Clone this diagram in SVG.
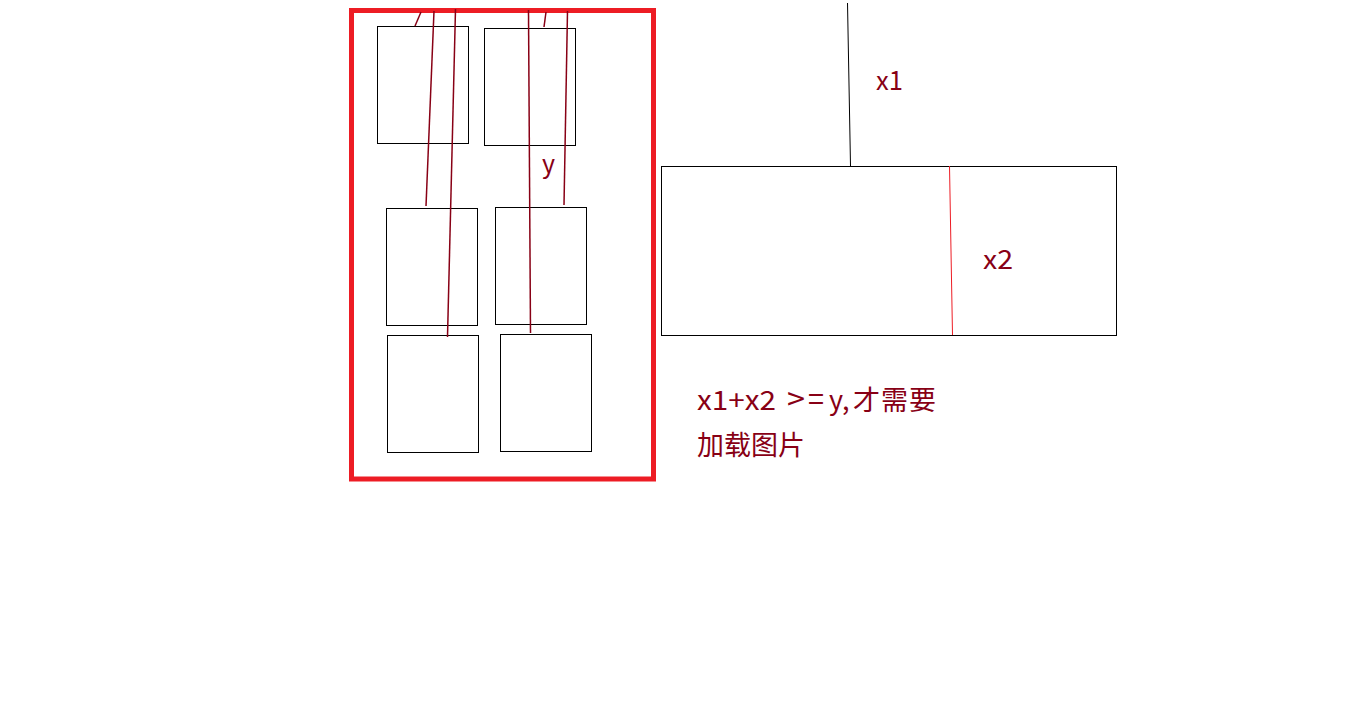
<svg xmlns="http://www.w3.org/2000/svg" width="1366" height="721" viewBox="0 0 1366 721">
<style>
.box{fill:none;stroke:#000;stroke-width:1}
.ln{fill:none;stroke:#880015;stroke-width:1.5}
.lbl{fill:#880015;font-family:"Noto Sans CJK SC","Liberation Sans",sans-serif}
</style>
<rect width="1366" height="721" fill="#fff"/>
<g id="frame"><rect x="351.5" y="10.5" width="302" height="468.5" fill="none" stroke="#ed1c24" stroke-width="5"/></g>
<g id="box1"><rect class="box" x="377.5" y="26.5" width="91" height="117"/></g>
<g id="box2"><rect class="box" x="484.5" y="28.5" width="91" height="117"/></g>
<g id="box3"><rect class="box" x="386.5" y="208.5" width="91" height="117"/></g>
<g id="box4"><rect class="box" x="495.5" y="207.5" width="91" height="117"/></g>
<g id="box5"><rect class="box" x="387.5" y="335.5" width="91" height="117"/></g>
<g id="box6"><rect class="box" x="500.5" y="334.5" width="91" height="117"/></g>
<g id="bigbox"><rect class="box" x="661.5" y="166.5" width="455" height="169"/></g>
<g id="connectors">
<line class="ln" x1="421" y1="12" x2="415" y2="26"/>
<line class="ln" x1="434" y1="11" x2="426" y2="206"/>
<line class="ln" x1="455.5" y1="9" x2="447.5" y2="337"/>
<line class="ln" x1="528.5" y1="10" x2="530.5" y2="333"/>
<line class="ln" x1="546" y1="12" x2="544" y2="27"/>
<line class="ln" x1="567.5" y1="11" x2="564" y2="205"/>
<line x1="847.5" y1="3" x2="850.5" y2="166" stroke="#000" stroke-width="1"/>
<line x1="949.5" y1="166" x2="952.5" y2="335" stroke="#ed1c24" stroke-width="1"/>
</g>
<g id="labels">
<text class="lbl" x="542" y="173" font-size="25">y</text>
<text class="lbl" x="876" y="90" font-size="26" textLength="27" lengthAdjust="spacingAndGlyphs">x1</text>
<text class="lbl" x="983" y="269" font-size="26" textLength="30" lengthAdjust="spacingAndGlyphs">x2</text>
<text class="lbl" y="410" font-size="27"><tspan x="697" textLength="79" lengthAdjust="spacingAndGlyphs">x1+x2</tspan><tspan x="787" font-size="30" textLength="18" lengthAdjust="spacingAndGlyphs">&gt;</tspan><tspan x="808" font-size="30" textLength="16" lengthAdjust="spacingAndGlyphs">=</tspan><tspan x="829">y,</tspan><tspan x="853 881 909">才需要</tspan></text>
<text class="lbl" x="697" y="455" font-size="27">加载图片</text>
</g>
</svg>
